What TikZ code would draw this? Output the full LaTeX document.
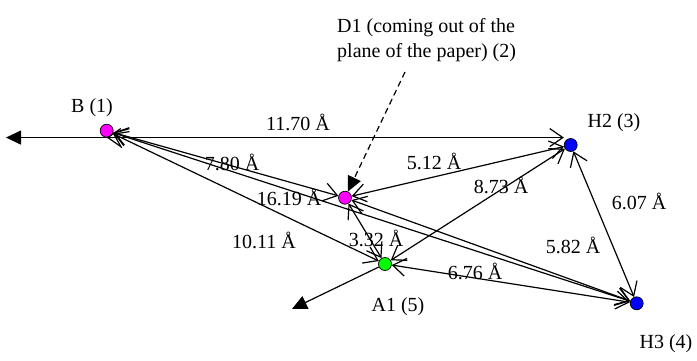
\documentclass[tikz,border=0pt]{standalone}
\usepackage{fontspec}
\setmainfont{Liberation Serif}
\usetikzlibrary{arrows.meta}
\definecolor{pinkatom}{RGB}{255,0,255}
\definecolor{blueatom}{RGB}{0,0,255}
\definecolor{greenatom}{RGB}{0,255,0}

\begin{document}
\begin{tikzpicture}[x=1pt,y=-1pt,font=\fontsize{20}{25}\selectfont,
  atom/.style={circle,draw,line width=0.7pt,minimum size=13pt,inner sep=0pt},
  dist/.style={line width=1.2pt,{Straight Barb[length=13pt,width=18pt]}-{Straight Barb[length=13pt,width=18pt]}},
  axis/.style={line width=1.2pt,-{Triangle[length=15pt,width=14pt]}}]

\useasboundingbox (0,0) rectangle (697,360);

% atoms
\node[atom,fill=pinkatom] (B) at (106.7,130.7) {};
\node[atom,fill=pinkatom] (D1) at (345,197.7) {};
\node[atom,fill=blueatom] (H2) at (570.7,145) {};
\node[atom,fill=greenatom] (A1) at (385,264) {};
\node[atom,fill=blueatom] (H3) at (636.7,303.3) {};

\node (Blab) at (92,108) {B (1)};
\node (H2lab) at (614,123) {H2 (3)};
\node (A1lab) at (398,307) {A1 (5)};
\node (H3lab) at (666,344) {H3 (4)};
\node[align=left,anchor=north west,inner sep=0pt] (D1lab) at (337,18)
  {D1 (coming out of the\\plane of the paper) (2)};

% axes
\coordinate (xtip) at (6,137);
\coordinate (ytip) at (292,309);
\coordinate (dtail) at (405,72);
\draw[axis] (B.south) -- (B.south -| xtip);
\draw[axis] (A1) -- (ytip);
\draw[axis,dash pattern=on 6pt off 4pt] (dtail) -- (D1);

% distances
\draw[dist] (B.south) -- (B.south -| H2.west);
\draw[dist] (B) -- (D1);
\draw[dist] (B) -- (H3);
\draw[dist] (B) -- (A1);
\draw[dist] (D1) -- (H2);
\draw[dist] (D1) -- (A1);
\draw[dist] (D1) -- (H3);
\draw[dist] (A1) -- (H2);
\draw[dist] (A1) -- (H3);
\draw[dist] (H2) -- (H3);

\node (d1) at (298,122) {11.70 Å};
\node (d2) at (232,162) {7.80 Å};
\node (d3) at (289,197) {16.19 Å};
\node (d4) at (264,240) {10.11 Å};
\node (d5) at (434,161) {5.12 Å};
\node (d6) at (376,238) {3.32 Å};
\node (d7) at (573,245) {5.82 Å};
\node (d8) at (501,185) {8.73 Å};
\node (d9) at (475,271) {6.76 Å};
\node (d10) at (639,201) {6.07 Å};

\end{tikzpicture}
\end{document}
